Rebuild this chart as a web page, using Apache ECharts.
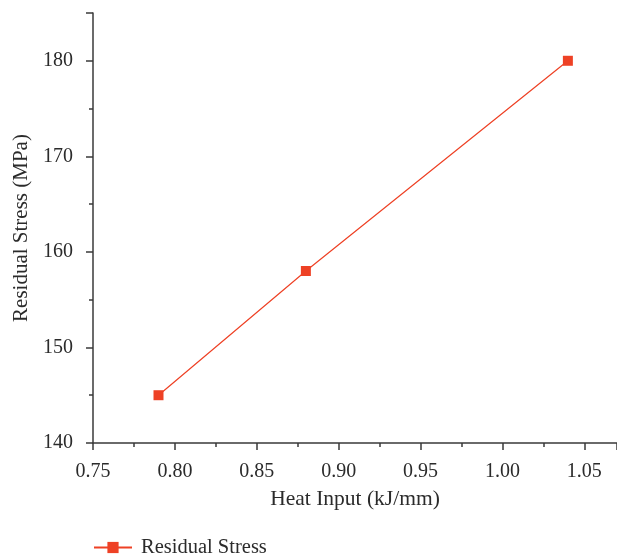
<!DOCTYPE html>
<html><head><meta charset="utf-8">
<script src="https://cdn.jsdelivr.net/npm/echarts@6/dist/echarts.min.js"></script>
<style>html,body{margin:0;padding:0;background:#fff}#c{width:617px;height:557px}</style>
</head><body><div id="c"></div>
<script>
const heatInput = [0.79, 0.88, 1.04];
const residualStress = [145, 158, 180];
const seriesName = 'Residual Stress';
const xTitle = 'Heat Input (kJ/mm)';
const yTitle = 'Residual Stress (MPa)';

const font = 'Liberation Serif';
const axisCol = '#3a3a3a';
const txtCol = '#2b2b2b';
const red = '#EE4125';
const chart = echarts.init(document.getElementById('c'));
chart.setOption({
  animation: false,
  grid: {left: 93, top: 13, right: 0, bottom: 114, containLabel: false, outerBoundsMode: 'none'},
  legend: {
    left: 88, top: 532, itemWidth: 38, itemHeight: 14, itemGap: 10,
    textStyle: {fontFamily: font, fontSize: 20.5, color: txtCol, padding: [0, 0, 0, 4]},
    data: [{name: seriesName}]
  },
  xAxis: {
    type: 'value', min: 0.75, max: 1.07, interval: 0.05,
    name: xTitle, nameLocation: 'middle', nameGap: 45,
    nameTextStyle: {fontFamily: font, fontSize: 21.5, color: txtCol},
    axisLine: {lineStyle: {color: axisCol, width: 1.5}},
    axisTick: {length: 7, lineStyle: {color: axisCol, width: 1.5}},
    minorTick: {show: true, splitNumber: 2, length: 4, lineStyle: {color: axisCol, width: 1.5}},
    axisLabel: {fontFamily: font, fontSize: 20, color: txtCol, margin: 19,
      formatter: v => v.toFixed(2),
      showMaxLabel: false},
    splitLine: {show: false}
  },
  yAxis: {
    type: 'value', min: 140, max: 185, interval: 10,
    name: yTitle, nameLocation: 'middle', nameGap: 60, nameRotate: 90,
    nameTextStyle: {fontFamily: font, fontSize: 21, color: txtCol},
    axisLine: {show: true, lineStyle: {color: axisCol, width: 1.5}},
    axisTick: {show: true, length: 7, lineStyle: {color: axisCol, width: 1.5}},
    minorTick: {show: true, splitNumber: 2, length: 4, lineStyle: {color: axisCol, width: 1.5}},
    axisLabel: {fontFamily: font, fontSize: 20, color: txtCol, margin: 20, showMaxLabel: false},
    splitLine: {show: false}
  },
  series: [{
    name: seriesName, type: 'line',
    data: heatInput.map((x, i) => [x, residualStress[i]]),
    symbol: 'rect', symbolSize: 10,
    lineStyle: {color: red, width: 1.2},
    itemStyle: {color: red}
  }]
});
</script></body></html>
